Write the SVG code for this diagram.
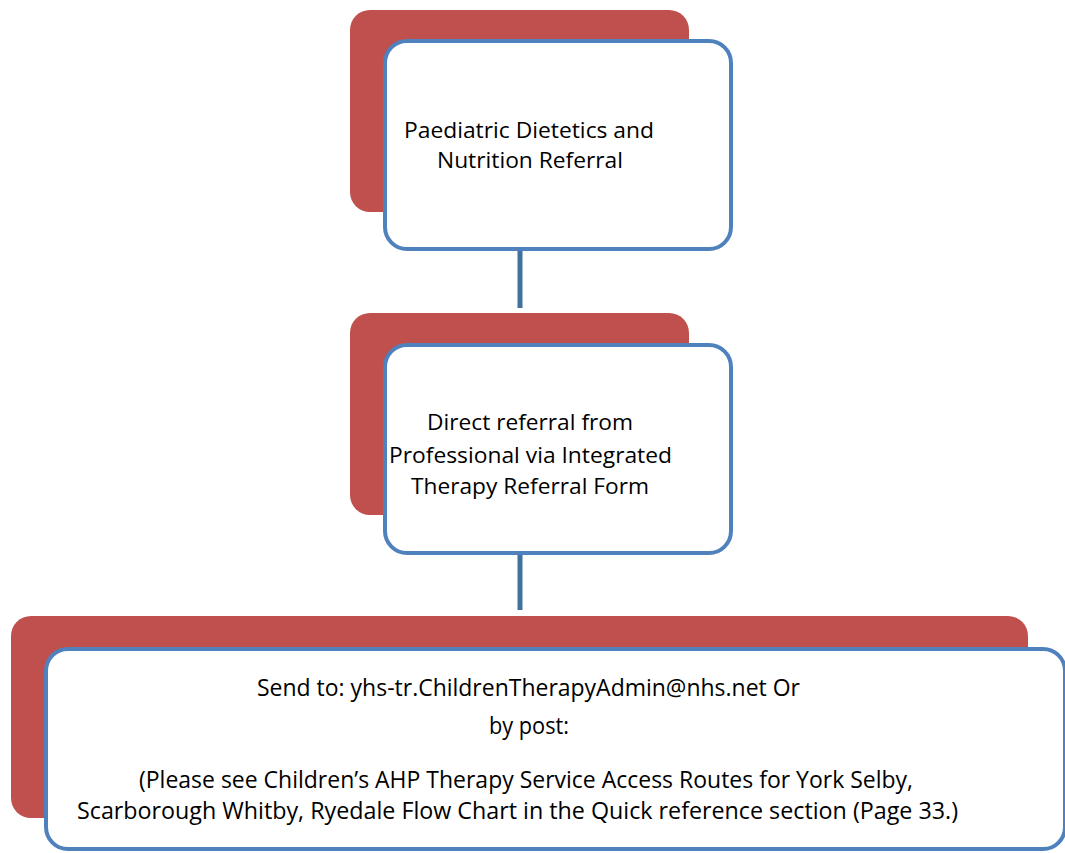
<svg xmlns="http://www.w3.org/2000/svg" width="1065" height="853" viewBox="0 0 1065 853">
<style>
.back{fill:#C0504D;}
.front{fill:#FFFFFF;stroke:#4F81BD;stroke-width:4;}
.conn{stroke:#41719C;stroke-width:5;fill:none;}
text{font-family:"Open Sans","Liberation Sans",sans-serif;font-weight:400;fill:#000000;}
.t1{font-size:22px;}
.t3{font-size:24px;}
</style>
<rect width="1065" height="853" fill="#FFFFFF"/>
<g id="connectors">
<line class="conn" x1="520" y1="251" x2="520" y2="308"/>
<line class="conn" x1="520" y1="555" x2="520" y2="610"/>
</g>
<g id="node1">
<rect class="back" x="350" y="10" width="339" height="202" rx="20" ry="20"/>
<rect class="front" x="385" y="41" width="346" height="208" rx="22" ry="22"/>
<text class="t1" x="404" y="138" textLength="250" lengthAdjust="spacingAndGlyphs">Paediatric Dietetics and</text>
<text class="t1" x="437" y="168" textLength="186" lengthAdjust="spacingAndGlyphs">Nutrition Referral</text>
</g>
<g id="node2">
<rect class="back" x="350" y="313" width="339" height="202" rx="20" ry="20"/>
<rect class="front" x="385" y="345" width="346" height="208" rx="22" ry="22"/>
<text class="t1" x="427" y="430" textLength="206" lengthAdjust="spacingAndGlyphs">Direct referral from</text>
<text class="t1" x="389" y="463" textLength="283" lengthAdjust="spacingAndGlyphs">Professional via Integrated</text>
<text class="t1" x="411" y="494" textLength="238" lengthAdjust="spacingAndGlyphs">Therapy Referral Form</text>
</g>
<g id="node3">
<rect class="back" x="11" y="616" width="1017" height="202" rx="20" ry="20"/>
<rect class="front" x="46" y="649" width="1019" height="200" rx="22" ry="22"/>
<text class="t3" x="257" y="696" textLength="543" lengthAdjust="spacingAndGlyphs">Send to: yhs-tr.ChildrenTherapyAdmin@nhs.net Or</text>
<text class="t3" x="489" y="734" textLength="80" lengthAdjust="spacingAndGlyphs">by post:</text>
<text class="t3" x="139" y="788" textLength="774" lengthAdjust="spacingAndGlyphs">(Please see Children’s AHP Therapy Service Access Routes for York Selby,</text>
<text class="t3" x="77" y="819" textLength="881" lengthAdjust="spacingAndGlyphs">Scarborough Whitby, Ryedale Flow Chart in the Quick reference section (Page 33.)</text>
</g>
</svg>
